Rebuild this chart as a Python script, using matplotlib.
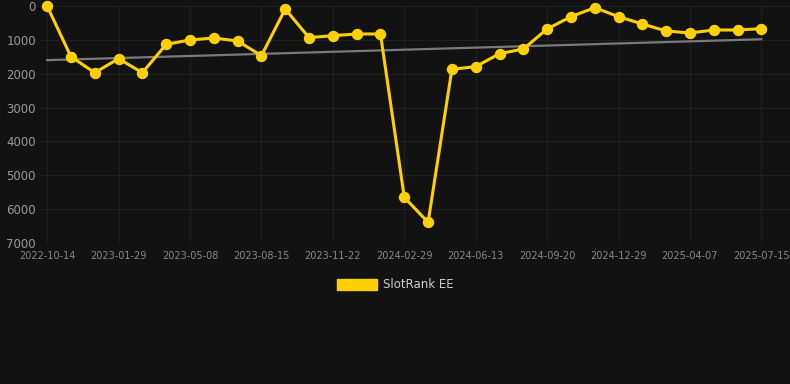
import numpy as np
import matplotlib.pyplot as plt
from matplotlib.patches import Patch

dates = ["2022-10-14", "2023-01-29", "2023-05-08", "2023-08-15", "2023-11-22",
         "2024-02-29", "2024-06-13", "2024-09-20", "2024-12-29", "2025-04-07",
         "2025-07-15"]
rank = [0, 1497, 1970, 1555, 1970, 1132, 1004, 945, 1034, 1467,
        89, 935, 876, 827, 827, 5650, 6390, 1870, 1791, 1408,
        1270, 679, 315, 49, 315, 532, 738, 797, 709, 709, 670]

bg = "#121212"
fig = plt.figure(figsize=(7.9, 3.84), dpi=100, facecolor=bg)
ax = fig.add_axes([40/790, (384-243)/384, 750/790, 237/384])
ax.set_facecolor(bg)

x = np.arange(len(rank))
# linear trend
k, b = np.polyfit(x, rank, 1)
ax.plot([x[0], x[-1]], [k*x[0]+b, k*x[-1]+b], color="#7a7a7a", lw=1.6, zorder=2)

ax.plot(x, rank, color="#FFD000", lw=2.2, marker="o", markersize=7.2,
        clip_on=False, zorder=3)

ax.set_ylim(7000, 0)
ax.set_xlim(-0.3, 31.2)
ax.set_yticks(range(0, 7001, 1000))
ax.set_xticks(x[::3])
ax.set_xticklabels(dates)
ax.grid(True, color="#202020", lw=0.8)
ax.set_axisbelow(True)
for s in ax.spines.values():
    s.set_visible(False)
ax.tick_params(axis="y", colors="#9a9a9a", labelsize=8.5, length=0, pad=3)
ax.tick_params(axis="x", colors="#888888", labelsize=7, length=0, pad=6)

fig.legend(handles=[Patch(color="#FFD000", label="SlotRank EE")],
           loc="center", bbox_to_anchor=(0.5, 1 - 285/384), frameon=False,
           fontsize=8.5, labelcolor="#cccccc", handlelength=3.4, handleheight=1.0,
           handletextpad=0.5)

fig.savefig("out.png", dpi=100, facecolor=bg)
